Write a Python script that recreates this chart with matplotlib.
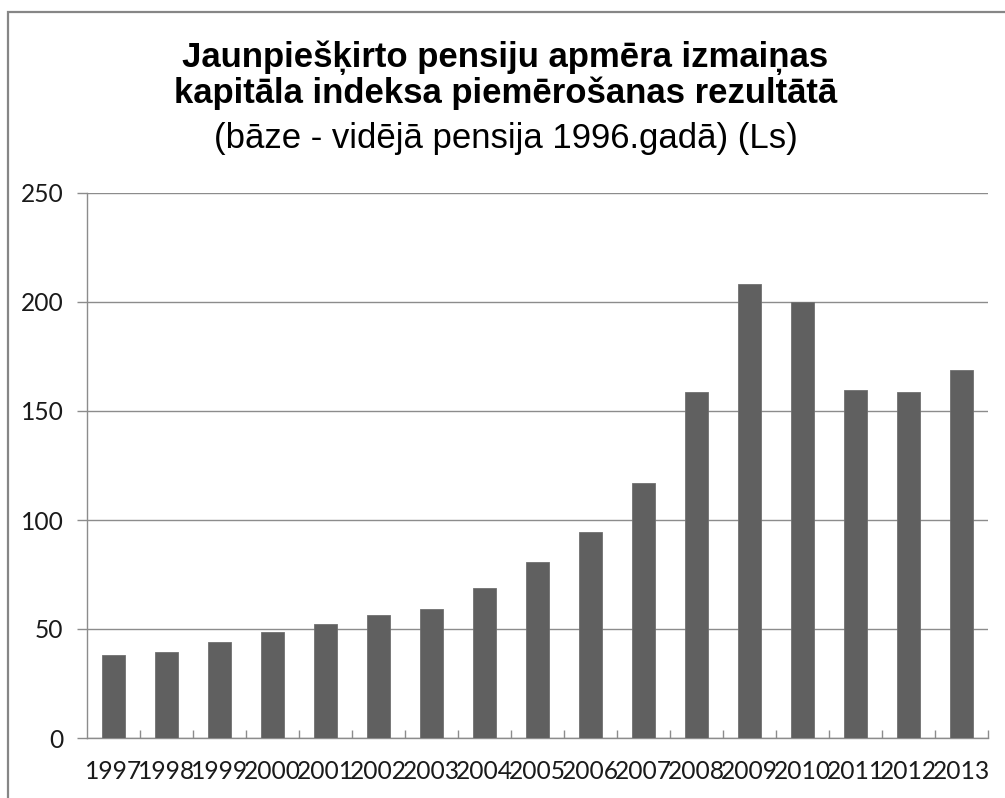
import matplotlib
matplotlib.use("Agg")
import matplotlib.pyplot as plt
from matplotlib.patches import Rectangle
import numpy as np

years = ["1997", "1998", "1999", "2000", "2001", "2002", "2003", "2004", "2005",
         "2006", "2007", "2008", "2009", "2010", "2011", "2012", "2013"]
values = [38.0, 39.4, 44.1, 48.8, 52.3, 56.5, 59.4, 68.6, 80.9,
          94.6, 116.9, 158.9, 208.1, 200.0, 159.5, 158.9, 168.9]
yticks = [0, 50, 100, 150, 200, 250]

W, H = 1005, 798
fig = plt.figure(figsize=(W / 100, H / 100), dpi=100)
fig.patch.set_facecolor("white")

# outer chart frame
fig.patches.append(Rectangle((8 / W, -0.2), 1.2, 1.2 - 12 / H,
                             transform=fig.transFigure, fill=False,
                             edgecolor="#868686", linewidth=1.6, zorder=0))

ax = fig.add_axes([87 / W, 1 - 738 / H, (988 - 87) / W, (738 - 193) / H])
x = np.arange(len(years))
ax.bar(x, values, width=0.42, color="#606060", edgecolor="#707070",
       linewidth=0.6, zorder=3)

ax.set_xlim(-0.5, len(years) - 0.5)
ax.set_ylim(0, 250)
ax.set_yticks(yticks)
ax.set_yticklabels([str(v) for v in yticks])
ax.yaxis.grid(True, color="#8c8c8c", linewidth=1.0, zorder=1)
ax.set_axisbelow(True)

ax.set_xticks(x)
ax.set_xticklabels(years)
ax.set_xticks(np.arange(len(years)) + 0.5, minor=True)

for s in ["top", "right"]:
    ax.spines[s].set_visible(False)
for s in ["left", "bottom"]:
    ax.spines[s].set_color("#8c8c8c")
    ax.spines[s].set_linewidth(1.0)

tick_font = "Lato"
ax.tick_params(axis="x", which="major", length=0, pad=16, labelsize=17.7,
               labelcolor="#1a1a1a")
ax.tick_params(axis="x", which="minor", direction="in", length=5.5,
               color="#8c8c8c", width=1.0)
ax.tick_params(axis="y", which="major", direction="out", length=7,
               color="#8c8c8c", width=1.0, pad=10, labelsize=17.7,
               labelcolor="#1a1a1a")
for lab in ax.get_xticklabels() + ax.get_yticklabels():
    lab.set_family(tick_font)

fig.text(0.503, 1 - 67 / H, "Jaunpiešķirto pensiju apmēra izmaiņas",
         ha="center", va="baseline", fontsize=25, fontweight="bold",
         family="Liberation Sans", color="black")
fig.text(0.503, 1 - 103 / H, "kapitāla indeksa piemērošanas rezultātā",
         ha="center", va="baseline", fontsize=25, fontweight="bold",
         family="Liberation Sans", color="black")
fig.text(0.503, 1 - 148 / H, "(bāze - vidējā pensija 1996.gadā) (Ls)",
         ha="center", va="baseline", fontsize=25,
         family="Liberation Sans", color="black")

fig.savefig("out.png", dpi=100)
